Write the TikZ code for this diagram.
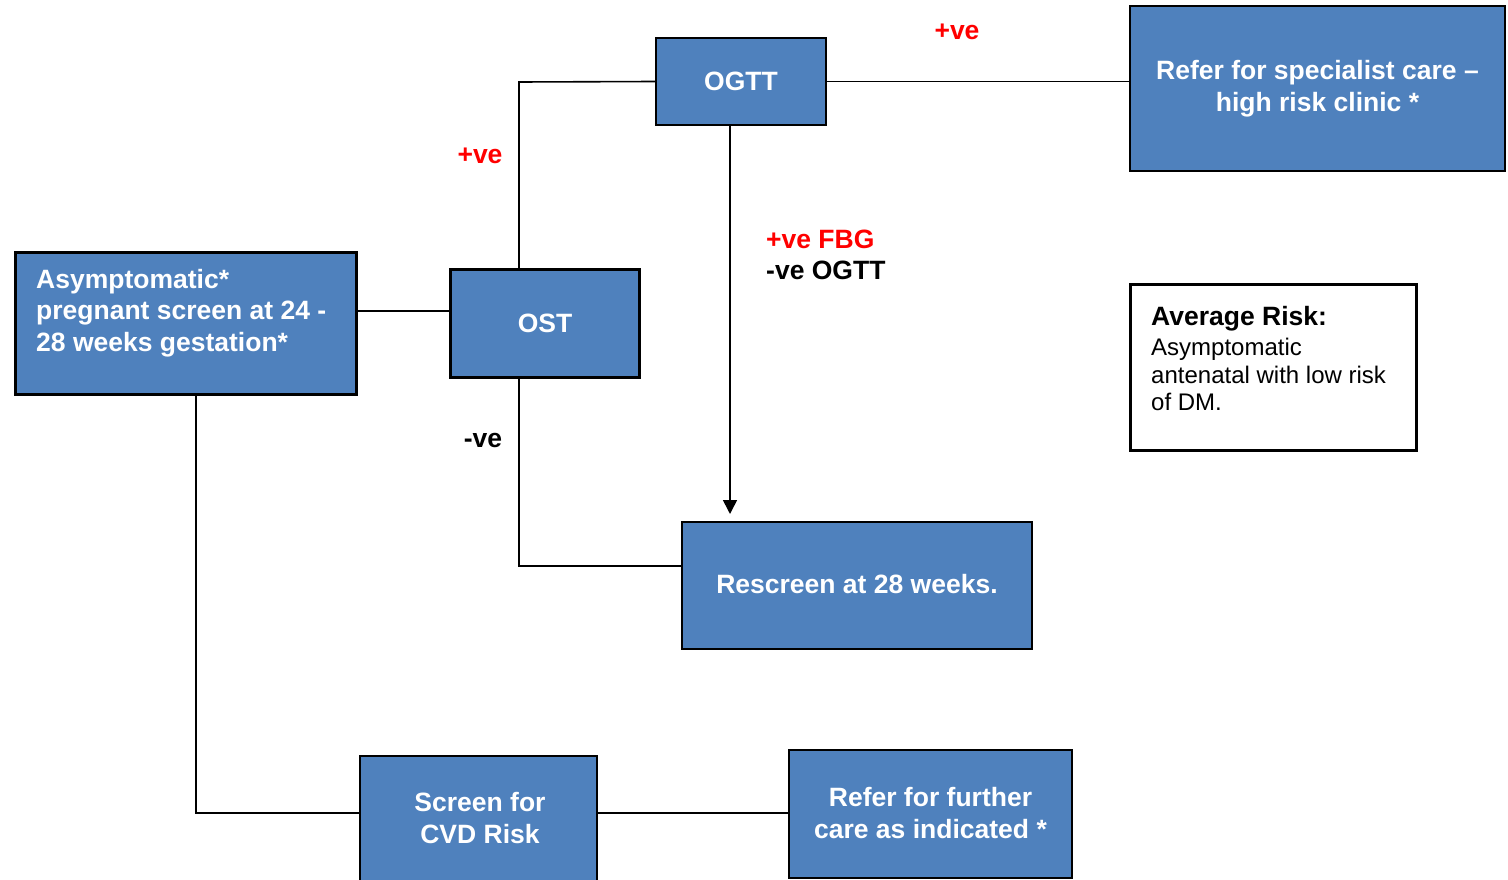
\documentclass[tikz,border=0pt]{standalone}
\usepackage{fontspec}
\setmainfont{Liberation Sans}
\usetikzlibrary{arrows.meta}
\definecolor{boxblue}{HTML}{4F81BD}
\definecolor{labelred}{HTML}{FF0000}
\tikzset{
  box/.style={draw=black, fill=boxblue, line width=2pt, anchor=north west, inner sep=0pt},
  heavybox/.style={box, line width=3pt},
  boxtext/.style={text=white, font=\bfseries\fontsize{26.5}{31.5}\selectfont, align=center, inner sep=0pt},
  lbl/.style={font=\bfseries\fontsize{26.5}{31}\selectfont, inner sep=0pt},
  conn/.style={draw=black, line width=1.6pt},
}
\begin{document}
\begin{tikzpicture}[x=1pt, y=-1pt]
\useasboundingbox (0,0) rectangle (1508,880);

% boxes
\node[box, minimum width=170pt, minimum height=87pt] (ogtt) at (655,37) {};
\node[boxtext] at (ogtt.center) {OGTT};

\node[box, minimum width=375pt, minimum height=165pt] (spec) at (1129,5) {};
\node[boxtext] at (spec.center) {Refer for specialist care –\\high risk clinic *};

\node[heavybox, minimum width=341pt, minimum height=142pt] (asym) at (14,251) {};
\node[boxtext, align=left, anchor=north west] (asymtxt) at (36,269)
  {Asymptomatic*\\pregnant screen at 24 -\\28 weeks gestation*};

\node[heavybox, minimum width=189pt, minimum height=108pt] (ost) at (449,268) {};
\node[boxtext] at (ost.center) {OST};

\node[box, minimum width=350pt, minimum height=127pt] (resc) at (681,521) {};
\node[boxtext] at ([yshift=1.5pt]resc.center) {Rescreen at 28 weeks.};

\node[box, fill=white, line width=2.5pt, minimum width=286pt, minimum height=166pt] (avg) at (1129,283) {};
\node[anchor=north west, align=left, inner sep=0pt, font=\fontsize{24}{27.5}\selectfont] (avgtxt) at (1151,306)
  {\textbf{\fontsize{26.5}{27.5}\selectfont Average Risk:}\\[3pt]Asymptomatic\\antenatal with low risk\\of DM.};

\node[box, minimum width=237pt, minimum height=150pt] (cvd) at (359,755) {};
\node[boxtext] (cvdtxt) at (480,818) {Screen for\\CVD Risk};

\node[box, minimum width=283pt, minimum height=128pt] (further) at (788,749) {};
\node[boxtext] at ([yshift=1pt]further.center) {Refer for further\\care as indicated *};

% connectors
\coordinate (asymout) at (355,311);
\coordinate (ostup) at (519,82);
\coordinate (ostdown) at (519,566);
\coordinate (asymdown) at (196,813);

\draw[conn] (asym.east |- asymout) -- (ost.west |- asymout);
\draw[conn] (ost.north -| ostup) -- (ostup) -- (ogtt.west);
\draw[conn] (ogtt.east) -- (spec.west |- ogtt.east);
\draw[conn, -{Triangle[width=14pt,length=14pt]}, shorten >=7pt] (ogtt.south -| 730,0) -- (resc.north -| 730,0);
\draw[conn] (ost.south -| ostdown) -- (ostdown) -- (resc.west |- ostdown);
\draw[conn] (asym.south -| asymdown) -- (asymdown) -- (cvd.west |- asymdown);
\draw[conn] (cvd.east |- asymdown) -- (further.west |- asymdown);

% branch labels
\node[lbl, text=labelred] (lblspec) at (957,32) {+ve};
\node[lbl, text=labelred] (lblogtt) at (480,156) {+ve};
\node[lbl] (lblneg) at (483,440) {-ve};
\node[lbl, anchor=west, text=labelred] (lblfbg) at (766,239) {+ve FBG};
\node[lbl, anchor=west] (lblnegogtt) at (766,270) {-ve OGTT};
\end{tikzpicture}
\end{document}
